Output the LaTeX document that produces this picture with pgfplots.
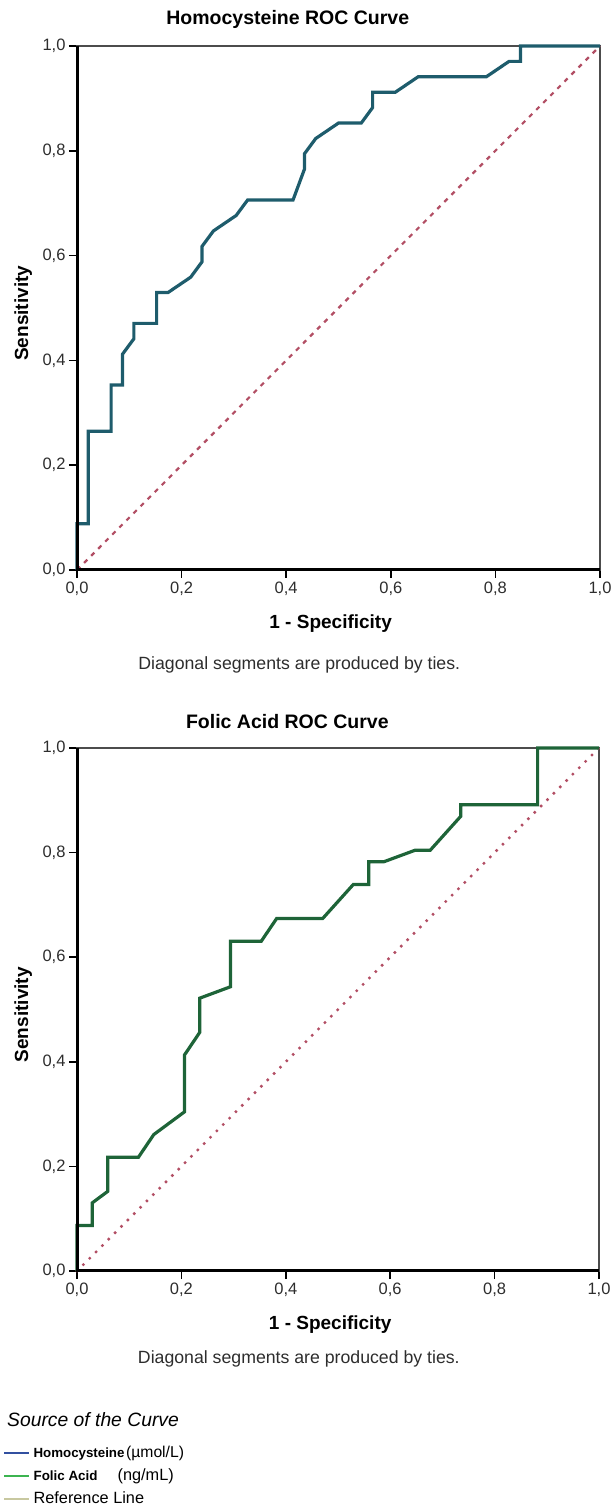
\documentclass[border=0pt]{standalone}
\usepackage{fontspec}
\setmainfont{Liberation Sans}
\usepackage{pgfplots}
\pgfplotsset{compat=1.18}

\definecolor{homoc}{RGB}{30,92,108}
\definecolor{folic}{RGB}{30,100,56}
\definecolor{refred}{RGB}{178,78,100}
\definecolor{legblue}{RGB}{50,80,160}
\definecolor{leggreen}{RGB}{60,180,80}
\definecolor{legbeige}{RGB}{200,200,160}
\definecolor{tickgray}{RGB}{45,45,45}

\pgfplotsset{
  rocaxis/.style={
    scale only axis,
    xmin=0, xmax=1, ymin=0, ymax=1,
    xtick={0,0.2,0.4,0.6,0.8,1}, ytick={0,0.2,0.4,0.6,0.8,1},
    xtick pos=left, ytick pos=left,
    tick align=outside,
    major tick length=8pt,
    tick style={black, line width=1.5pt},
    axis line style={line width=1.3pt, black!70},
    ticklabel style={font=\fontsize{16.5}{19}\selectfont, text=tickgray},
    xticklabel style={/pgf/number format/.cd, fixed, fixed zerofill, precision=1, use comma, assume math mode=true},
    yticklabel style={/pgf/number format/.cd, fixed, fixed zerofill, precision=1, use comma, assume math mode=true},
    clip=false,
    xlabel={1 - Specificity},
    ylabel={Sensitivity},
    label style={font=\fontsize{19}{22}\bfseries},
    xlabel style={at={(axis description cs:0.485,-0.103)}, anchor=center},
    ylabel style={at={(axis description cs:-0.103,0.49)}, anchor=center},
    title style={at={(axis description cs:0.403,1.040)}, anchor=center, font=\fontsize{19.5}{23}\bfseries},
    after end axis/.code={
      \draw[line width=3pt, black] (rel axis cs:0,1) -- (rel axis cs:0,0) -- (rel axis cs:1,0);
    },
  },
}

\begin{document}
\begin{tikzpicture}
\useasboundingbox (0pt,0pt) rectangle (613pt,1507pt);

% Homocysteine
\begin{axis}[rocaxis,
    at={(77pt,937pt)}, anchor=south west,
    width=523pt, height=524pt,
    title={Homocysteine ROC Curve},
]
\addplot[refred, line width=2.2pt, dash pattern=on 4.5pt off 5.5pt] coordinates {(0,0) (1,1)};
\addplot[homoc, line width=3.2pt] coordinates {
  (0,0) (0,0.0882) (0.0217,0.0882) (0.0217,0.2647) (0.0652,0.2647) (0.0652,0.3529)
  (0.0870,0.3529) (0.0870,0.4118) (0.1087,0.4412) (0.1087,0.4706) (0.1522,0.4706)
  (0.1522,0.5294) (0.1739,0.5294) (0.2174,0.5588) (0.2391,0.5882) (0.2391,0.6176)
  (0.2609,0.6471) (0.3043,0.6765) (0.3261,0.7059) (0.4130,0.7059) (0.4348,0.7647)
  (0.4348,0.7941) (0.4565,0.8235) (0.5000,0.8529) (0.5435,0.8529) (0.5652,0.8824)
  (0.5652,0.9118) (0.6087,0.9118) (0.6522,0.9412) (0.7826,0.9412) (0.8261,0.9706)
  (0.8478,0.9706) (0.8478,1) (1,1)
};
\node[font=\fontsize{17.7}{21}\selectfont, text=tickgray] at (axis description cs:0.425,-0.181) {Diagonal segments are produced by ties.};
\end{axis}

% Folic acid
\begin{axis}[rocaxis,
    at={(77pt,236pt)}, anchor=south west,
    width=522pt, height=523pt,
    title={Folic Acid ROC Curve},
    legend style={at={(axis description cs:-0.1418,-0.3327)}, anchor=north west,
      draw=none, fill=none, inner sep=0pt, outer sep=0pt,
      row sep=7pt, column sep=3pt,
      nodes={inner sep=0pt, text height=12pt, text depth=4pt, anchor=west}},
    legend cell align=left,
    legend image code/.code={\draw[#1] (0pt,0pt) -- (25pt,0pt);},
]
\addplot[refred, line width=3.4pt, line cap=round, dash pattern=on 0pt off 9pt, forget plot] coordinates {(0,0) (1,1)};
\addplot[folic, line width=3.2pt, forget plot] coordinates {
  (0,0) (0,0.0870) (0.0294,0.0870) (0.0294,0.1304) (0.0588,0.1522) (0.0588,0.2174)
  (0.1176,0.2174) (0.1471,0.2609) (0.2059,0.3043) (0.2059,0.4130) (0.2353,0.4565)
  (0.2353,0.5217) (0.2941,0.5435) (0.2941,0.6304) (0.3529,0.6304) (0.3824,0.6739)
  (0.4706,0.6739) (0.5294,0.7391) (0.5588,0.7391) (0.5588,0.7826) (0.5882,0.7826)
  (0.6471,0.8043) (0.6765,0.8043) (0.7353,0.8696) (0.7353,0.8913) (0.8824,0.8913)
  (0.8824,1) (1,1)
};
\node[font=\fontsize{17.7}{21}\selectfont, text=tickgray] at (axis description cs:0.425,-0.168) {Diagonal segments are produced by ties.};
\addlegendimage{legblue, line width=2.6pt}
\addlegendentry{{\fontsize{13.3}{16}\bfseries Homocysteine}\,{\fontsize{15.7}{18}\selectfont(µmol/L)}}
\addlegendimage{leggreen, line width=2.6pt}
\addlegendentry{{\fontsize{13.4}{16}\bfseries Folic Acid}\hspace{20pt}{\fontsize{16.3}{18}\selectfont(ng/mL)}}
\addlegendimage{legbeige, line width=2.6pt}
\addlegendentry{{\fontsize{16.3}{18}\selectfont Reference Line}}
\end{axis}

\node[anchor=west, inner sep=0pt, font=\fontsize{19.3}{22}\itshape] at (7pt,87pt) {Source of the Curve};
\end{tikzpicture}
\end{document}
